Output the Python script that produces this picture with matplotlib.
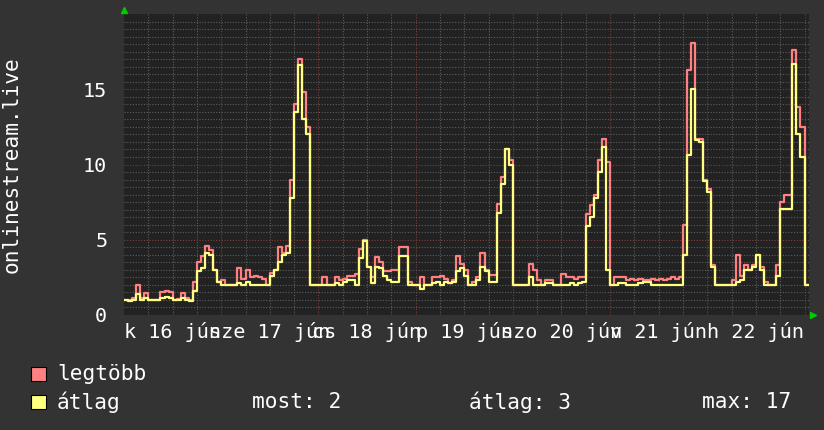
import numpy as np
import matplotlib
matplotlib.use('Agg')
import matplotlib.pyplot as plt
from matplotlib.patches import Rectangle
from matplotlib.transforms import ScaledTranslation

# hourly values, starting at midnight of the first day (k 16 jún)
max_vals = [1.0, 1.0, 1.1, 2.0, 1.1, 1.45, 1.0, 1.0, 1.0, 1.55, 1.6, 1.55, 1.0, 1.05, 1.45, 1.1, 1.0, 2.2,
            3.5, 3.9, 4.6, 4.3, 3.0, 2.2, 2.3, 2.0, 2.0, 2.0, 3.1, 2.4, 3.0, 2.5, 2.6, 2.5, 2.4, 2.0,
            2.8, 3.0, 4.5, 4.1, 4.6, 9.0, 14.0, 17.0, 14.8, 12.5, 2.0, 2.0, 2.0, 2.5, 2.0, 2.0, 2.5, 2.3,
            2.4, 2.6, 2.6, 2.75, 4.4, 5.0, 3.2, 2.5, 3.85, 3.5, 2.95, 2.9, 3.0, 3.0, 4.5, 4.55, 2.2, 2.0,
            2.0, 2.5, 2.0, 2.0, 2.5, 2.5, 2.6, 2.4, 2.1, 2.3, 3.9, 3.4, 3.0, 2.0, 2.2, 2.5, 4.1, 3.0,
            2.65, 2.65, 7.4, 9.2, 11.0, 10.3, 2.0, 2.0, 2.0, 2.0, 3.4, 3.0, 2.3, 2.0, 2.3, 2.3, 2.0, 2.0,
            2.7, 2.5, 2.5, 2.4, 2.5, 2.5, 6.7, 7.3, 8.0, 10.3, 11.7, 10.15, 2.0, 2.5, 2.5, 2.5, 2.3, 2.4,
            2.3, 2.4, 2.3, 2.3, 2.4, 2.3, 2.4, 2.3, 2.4, 2.5, 2.4, 2.5, 6.0, 16.3, 18.1, 11.7, 11.7, 9.0,
            8.4, 3.3, 2.0, 2.0, 2.0, 2.0, 2.35, 4.0, 2.6, 3.3, 3.0, 3.3, 4.0, 3.2, 2.2, 2.0, 2.0, 3.3,
            7.5, 7.95, 7.95, 17.6, 13.8, 12.5, 2.0, 2.0]
avg_vals = [1.0, 0.95, 1.0, 1.4, 1.0, 1.1, 1.0, 1.0, 1.0, 1.1, 1.2, 1.1, 1.0, 1.0, 1.15, 1.0, 0.9, 1.6,
            2.9, 3.1, 4.1, 4.0, 3.0, 2.2, 2.0, 2.0, 2.0, 2.0, 2.1, 2.0, 2.2, 2.0, 2.0, 2.0, 2.0, 2.0,
            2.6, 3.0, 3.5, 4.0, 4.1, 7.8, 13.5, 16.6, 13.0, 12.0, 2.0, 2.0, 2.0, 2.0, 2.0, 2.0, 2.1, 2.0,
            2.2, 2.3, 2.3, 2.0, 3.8, 4.95, 3.2, 2.1, 3.2, 3.1, 2.6, 2.3, 2.2, 2.2, 3.9, 3.95, 2.0, 2.0,
            2.0, 1.7, 2.0, 2.0, 2.1, 2.2, 2.0, 2.2, 2.1, 2.2, 2.9, 3.1, 2.6, 2.0, 2.0, 2.3, 3.2, 2.9,
            2.2, 2.2, 6.8, 8.7, 11.0, 10.0, 2.0, 2.0, 2.0, 2.0, 2.5, 2.0, 2.0, 2.0, 2.1, 2.1, 2.0, 2.0,
            2.0, 2.0, 2.1, 2.0, 2.1, 2.2, 5.9, 6.5, 7.8, 9.5, 11.15, 3.0, 2.0, 2.0, 2.1, 2.1, 2.0, 2.0,
            2.0, 2.1, 2.2, 2.2, 2.0, 2.0, 2.0, 2.0, 2.0, 2.0, 2.0, 2.0, 4.0, 10.6, 15.0, 11.6, 11.5, 8.9,
            8.2, 3.2, 2.0, 2.0, 2.0, 2.0, 2.0, 2.2, 2.3, 3.0, 3.0, 3.2, 4.0, 3.0, 2.0, 2.0, 2.0, 2.6,
            7.05, 7.05, 7.05, 16.7, 12.0, 10.5, 2.0, 2.0]
day_labels = ['k 16 jún', 'sze 17 jún', 'cs 18 jún', 'p 19 jún', 'szo 20 jún', 'v 21 jún', 'h 22 jún']
y_ticks = [0, 5, 10, 15]

BACK = '#333333'
CANVAS = '#222222'
GRID = '#5e5e5e'
MGRID = '#7c3c3c'
ARROW = '#00cc00'
MAX_COL = '#ff8080'
AVG_COL = '#ffff80'
FS = 14.5
FS_LEG = 15.2

plt.rcParams['font.family'] = ['DejaVu Sans Mono', 'DejaVu Sans']

W, H = 824, 430
fig = plt.figure(figsize=(W / 100, H / 100), dpi=100, facecolor=BACK)
ax = fig.add_axes([124 / W, 1 - 315 / H, 685 / W, 301 / H], facecolor=CANVAS)

n = len(avg_vals)
x_end = 169.1

# grid: every 6 hours / every half unit, red on days and every 5
for h in range(6, int(x_end) + 1, 6):
    ax.axvline(h, color=MGRID if h % 24 == 0 else GRID, lw=0.8, ls=(0, (1, 1.5)), zorder=1)
for v in np.arange(0.5, 20, 0.5):
    ax.axhline(v, color=MGRID if v % 5 == 0 else GRID, lw=0.8, ls=(0, (1, 1.5)), zorder=1)

hours = np.arange(n + 1)
ax.step(hours, max_vals + max_vals[-1:], where='post', color=MAX_COL, lw=1.6, zorder=3)
ax.step(hours, avg_vals + avg_vals[-1:], where='post', color=AVG_COL, lw=1.6, zorder=4)

ax.set_xlim(0, x_end)
ax.set_ylim(0, 20)
for s in ax.spines.values():
    s.set_visible(False)

ax.set_xticks([12 + 24 * i for i in range(len(day_labels))], day_labels)
ax.set_yticks(y_ticks, [str(t) for t in y_ticks])
ax.tick_params(axis='x', length=0, pad=5, labelcolor='white', labelsize=FS)
ax.tick_params(axis='y', length=0, pad=12, labelcolor='white', labelsize=FS)

# little green arrows at the axis ends
ax.plot([0], [1], marker='^', ms=5, color=ARROW, clip_on=False, zorder=5,
        transform=ax.transAxes + ScaledTranslation(0, 0.04, fig.dpi_scale_trans))
ax.plot([1], [0], marker='>', ms=5, color=ARROW, clip_on=False, zorder=5,
        transform=ax.transAxes + ScaledTranslation(0.04, 0, fig.dpi_scale_trans))

fig.text(12 / W, 1 - 165 / H, 'onlinestream.live', rotation=90, ha='center', va='center',
         color='white', fontsize=FS_LEG)

# legend
fig.add_artist(Rectangle((31 / W, 1 - 381 / H), 15 / W, 14 / H, transform=fig.transFigure,
                         facecolor=MAX_COL, edgecolor='black', lw=0.8))
fig.add_artist(Rectangle((31 / W, 1 - 409 / H), 15 / W, 14 / H, transform=fig.transFigure,
                         facecolor=AVG_COL, edgecolor='black', lw=0.8))
fig.text(57 / W, 1 - 374 / H, 'legtöbb', va='center', color='white', fontsize=FS_LEG)
fig.text(57 / W, 1 - 402 / H, 'átlag', va='center', color='white', fontsize=FS_LEG)
fig.text(252 / W, 1 - 402 / H, 'most: %.0f' % avg_vals[-1], va='center', color='white', fontsize=FS_LEG)
fig.text(469 / W, 1 - 402 / H, 'átlag: %.0f' % np.mean(avg_vals), va='center', color='white', fontsize=FS_LEG)
fig.text(702 / W, 1 - 402 / H, 'max: %.0f' % max(avg_vals), va='center', color='white', fontsize=FS_LEG)

fig.savefig('out.png', dpi=100, facecolor=BACK)
